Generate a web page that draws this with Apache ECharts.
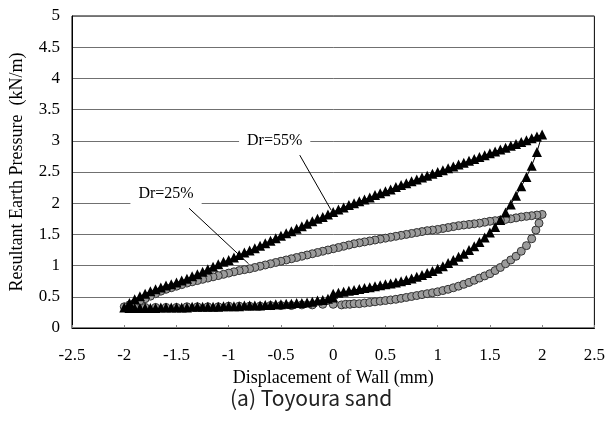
<!DOCTYPE html>
<html><head><meta charset="utf-8">
<script src="https://cdn.jsdelivr.net/npm/echarts@6/dist/echarts.min.js"></script>
<style>html,body{margin:0;padding:0;background:#fff}#c{width:608px;height:442px}</style>
</head><body><div id="c"></div>
<script>
// Dr=55% (black triangles): loading 0 -> 2, unloading 2 -> -2, reloading -2 -> 0
const dr55LoadX = [0,0.05,0.1,0.15,0.2,0.25,0.3,0.35,0.4,0.45,0.5,0.55,0.6,0.65,0.7,0.75,0.8,0.85,0.9,0.95,1.0,1.05,1.1,1.15,1.2,1.25,1.3,1.35,1.4,1.45,1.5,1.55,1.6,1.65,1.7,1.75,1.8,1.85,1.9,1.95,2.0];
const dr55LoadY = [0.55,0.565,0.58,0.595,0.61,0.625,0.64,0.655,0.67,0.685,0.70,0.715,0.73,0.75,0.77,0.795,0.82,0.85,0.88,0.915,0.95,0.99,1.04,1.09,1.14,1.19,1.25,1.31,1.38,1.45,1.53,1.62,1.73,1.85,1.98,2.12,2.27,2.42,2.60,2.82,3.10];
const dr55UnloadX = [1.95,1.9,1.85,1.8,1.75,1.7,1.65,1.6,1.55,1.5,1.45,1.4,1.35,1.3,1.25,1.2,1.15,1.1,1.05,1.0,0.95,0.9,0.85,0.8,0.75,0.7,0.65,0.6,0.55,0.5,0.45,0.4,0.35,0.3,0.25,0.2,0.15,0.1,0.05,0,-0.05,-0.1,-0.15,-0.2,-0.25,-0.3,-0.35,-0.4,-0.45,-0.5,-0.55,-0.6,-0.65,-0.7,-0.75,-0.8,-0.85,-0.9,-0.95,-1.0,-1.05,-1.1,-1.15,-1.2,-1.25,-1.3,-1.35,-1.4,-1.45,-1.5,-1.55,-1.6,-1.65,-1.7,-1.75,-1.8,-1.85,-1.9,-1.95,-2.0];
const dr55UnloadY = [3.07,3.04,3.01,2.98,2.95,2.92,2.89,2.86,2.83,2.80,2.77,2.74,2.71,2.68,2.65,2.62,2.59,2.56,2.53,2.50,2.47,2.44,2.41,2.38,2.35,2.32,2.29,2.26,2.22,2.19,2.16,2.13,2.09,2.06,2.03,2.00,1.97,1.93,1.90,1.86,1.82,1.78,1.75,1.71,1.67,1.63,1.59,1.55,1.52,1.48,1.44,1.40,1.36,1.32,1.28,1.24,1.21,1.17,1.13,1.09,1.06,1.02,0.98,0.94,0.90,0.86,0.83,0.79,0.76,0.73,0.70,0.68,0.65,0.62,0.59,0.55,0.51,0.46,0.40,0.33];
const dr55ReloadX = [-1.95,-1.9,-1.85,-1.8,-1.75,-1.7,-1.65,-1.6,-1.55,-1.5,-1.45,-1.4,-1.35,-1.3,-1.25,-1.2,-1.15,-1.1,-1.05,-1.0,-0.95,-0.9,-0.85,-0.8,-0.75,-0.7,-0.65,-0.6,-0.55,-0.5,-0.45,-0.4,-0.35,-0.3,-0.25,-0.2,-0.15,-0.1,-0.05,0];
const dr55ReloadY = [0.32,0.32,0.32,0.32,0.32,0.32,0.33,0.33,0.33,0.33,0.33,0.33,0.34,0.34,0.34,0.34,0.34,0.34,0.35,0.35,0.35,0.35,0.36,0.36,0.36,0.36,0.37,0.37,0.38,0.38,0.39,0.39,0.40,0.40,0.41,0.42,0.44,0.45,0.47,0.49];

// Dr=25% (grey circles): loading 0.08 -> 2, unloading 2 -> -2, reloading -2 -> 0
const dr25LoadX = [0.08,0.12,0.16,0.2,0.25,0.3,0.35,0.4,0.45,0.5,0.55,0.6,0.65,0.7,0.75,0.8,0.85,0.9,0.95,1.0,1.05,1.1,1.15,1.2,1.25,1.3,1.35,1.4,1.45,1.5,1.55,1.6,1.65,1.7,1.75,1.8,1.85,1.9,1.94,1.97,2.0];
const dr25LoadY = [0.37,0.38,0.38,0.39,0.39,0.40,0.41,0.42,0.43,0.44,0.45,0.46,0.475,0.49,0.505,0.52,0.535,0.55,0.565,0.58,0.60,0.62,0.645,0.67,0.70,0.73,0.765,0.80,0.835,0.87,0.92,0.97,1.03,1.09,1.15,1.23,1.32,1.43,1.57,1.68,1.82];
const dr25UnloadX = [1.95,1.9,1.85,1.8,1.75,1.7,1.65,1.6,1.55,1.5,1.45,1.4,1.35,1.3,1.25,1.2,1.15,1.1,1.05,1.0,0.95,0.9,0.85,0.8,0.75,0.7,0.65,0.6,0.55,0.5,0.45,0.4,0.35,0.3,0.25,0.2,0.15,0.1,0.05,0,-0.05,-0.1,-0.15,-0.2,-0.25,-0.3,-0.35,-0.4,-0.45,-0.5,-0.55,-0.6,-0.65,-0.7,-0.75,-0.8,-0.85,-0.9,-0.95,-1.0,-1.05,-1.1,-1.15,-1.2,-1.25,-1.3,-1.35,-1.4,-1.45,-1.5,-1.55,-1.6,-1.65,-1.7,-1.75,-1.8,-1.85,-1.9,-1.95,-2.0];
const dr25UnloadY = [1.81,1.80,1.79,1.78,1.765,1.75,1.74,1.73,1.72,1.71,1.695,1.68,1.67,1.66,1.65,1.64,1.625,1.61,1.595,1.58,1.57,1.56,1.545,1.53,1.515,1.50,1.485,1.47,1.455,1.44,1.425,1.41,1.395,1.38,1.365,1.35,1.33,1.31,1.29,1.27,1.25,1.23,1.21,1.19,1.17,1.15,1.13,1.11,1.09,1.07,1.05,1.03,1.01,0.99,0.97,0.95,0.935,0.92,0.90,0.88,0.86,0.84,0.82,0.80,0.78,0.76,0.74,0.72,0.695,0.67,0.645,0.62,0.59,0.55,0.51,0.47,0.435,0.40,0.37,0.34];
const dr25ReloadX = [-1.9,-1.8,-1.7,-1.6,-1.5,-1.4,-1.3,-1.2,-1.1,-1.0,-0.9,-0.8,-0.7,-0.6,-0.5,-0.4,-0.3,-0.2,-0.1,0];
const dr25ReloadY = [0.33,0.33,0.33,0.33,0.33,0.34,0.34,0.34,0.34,0.35,0.35,0.35,0.35,0.36,0.36,0.36,0.37,0.37,0.38,0.38];

// Annotations (data units)
const labelTexts = ['Dr=55%', 'Dr=25%'];
const labelPos = [[-0.56, 3.0], [-1.60, 2.155]];
const leaderStart = [[-0.32, 2.77], [-1.38, 1.92]];
const leaderEnd = [[-0.02, 1.89], [-0.81, 1.03]];

const xAxisName = 'Displacement of Wall (mm)';
const yAxisName = 'Resultant Earth Pressure  (kN/m)';
const caption = '(a) Toyoura sand';

function zip(xs, ys) { return xs.map((x, i) => [x, ys[i]]); }
const dr55 = zip(dr55LoadX, dr55LoadY).concat(zip(dr55UnloadX, dr55UnloadY), zip(dr55ReloadX, dr55ReloadY));
const dr25 = zip(dr25LoadX, dr25LoadY).concat(zip(dr25UnloadX, dr25UnloadY), zip(dr25ReloadX, dr25ReloadY));

const serif = '"Liberation Serif", "Times New Roman", serif';
const chart = echarts.init(document.getElementById('c'), null, {renderer: 'canvas'});
chart.setOption({
  animation: false,
  backgroundColor: '#fff',
  grid: {left: 66, right: 12, top: 16, bottom: 114, show: true, borderColor: '#000', borderWidth: 1},
  xAxis: {
    type: 'value', min: -2.5, max: 2.5, interval: 0.5,
    name: xAxisName, nameLocation: 'middle', nameGap: 38,
    nameTextStyle: {fontFamily: serif, fontSize: 18, color: '#000'},
    axisLine: {onZero: false, lineStyle: {color: '#000', width: 1}},
    axisTick: {show: true, inside: true, length: 3, lineStyle: {color: '#888'}},
    axisLabel: {fontFamily: serif, fontSize: 17, color: '#000', margin: 19},
    splitLine: {show: false}
  },
  yAxis: {
    type: 'value', min: 0, max: 5, interval: 0.5,
    name: yAxisName, nameLocation: 'middle', nameGap: 46,
    nameTextStyle: {fontFamily: serif, fontSize: 18, color: '#000'},
    axisLine: {show: true, onZero: false, lineStyle: {color: '#000', width: 1}},
    axisTick: {show: false},
    axisLabel: {fontFamily: serif, fontSize: 17, color: '#000', margin: 12},
    splitLine: {show: true, lineStyle: {color: '#707070', width: 1}}
  },
  graphic: [{
    type: 'text', left: 230, top: 388,
    style: {text: caption, font: '21px "Noto Sans CJK KR", "Noto Sans", sans-serif', fill: '#222'}
  }],
  series: [
    {
      name: 'Dr=25%', type: 'line', data: dr25,
      symbol: 'circle', symbolSize: 8,
      itemStyle: {color: '#9c9c9c', borderColor: '#333', borderWidth: 1},
      lineStyle: {color: '#555', width: 1}
    },
    {
      name: 'Dr=55%', type: 'line', data: dr55,
      symbol: 'triangle', symbolSize: 10,
      itemStyle: {color: '#000'},
      lineStyle: {color: '#000', width: 1},
      markLine: {
        silent: true, symbol: ['none', 'none'],
        lineStyle: {color: '#000', width: 1, type: 'solid'},
        label: {show: false},
        data: leaderStart.map((s, i) => [{coord: s}, {coord: leaderEnd[i]}])
      },
      markPoint: {
        silent: true, symbol: 'rect', symbolSize: 1,
        itemStyle: {color: 'rgba(0,0,0,0)'},
        label: {
          show: true, position: 'inside', fontFamily: serif, fontSize: 16, color: '#000',
          backgroundColor: '#fff', padding: [4, 8]
        },
        data: labelTexts.map((t, i) => ({coord: labelPos[i], value: t, label: {formatter: t}}))
      }
    }
  ]
});
</script>
</body></html>
